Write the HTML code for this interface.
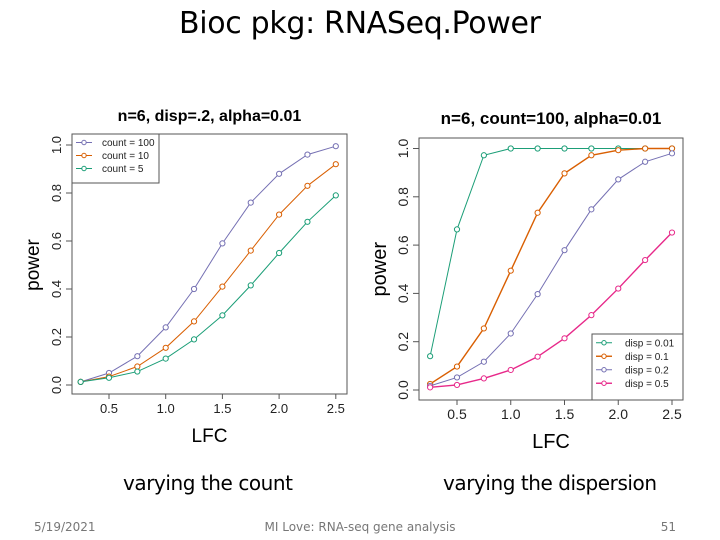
<!DOCTYPE html>
<html><head><meta charset="utf-8"><style>
body{margin:0;background:#fff;}
svg{display:block;font-family:"Liberation Sans",sans-serif;}
</style></head><body>
<svg id="s" width="720" height="540" viewBox="0 0 720 540">
<text x="360" y="33" text-anchor="middle" font-size="30" font-family="DejaVu Sans, sans-serif" textLength="362">Bioc pkg: RNASeq.Power</text>
<text x="208" y="490" text-anchor="middle" font-size="20" font-family="DejaVu Sans, sans-serif" textLength="170">varying the count</text>
<text x="550" y="490" text-anchor="middle" font-size="20" font-family="DejaVu Sans, sans-serif" textLength="214">varying the dispersion</text>
<text x="34" y="531" font-size="12" fill="#777" font-family="DejaVu Sans, sans-serif">5/19/2021</text>
<text x="360" y="531" text-anchor="middle" font-size="12" fill="#777" font-family="DejaVu Sans, sans-serif">MI Love: RNA-seq gene analysis</text>
<text x="676" y="531" text-anchor="end" font-size="12" fill="#777" font-family="DejaVu Sans, sans-serif">51</text>
<g id="left"></g>
<g id="right"></g>
</svg>
<script>
const lfc=[0.25,0.5,0.75,1.0,1.25,1.5,1.75,2.0,2.25,2.5];
const xTicks=[0.5,1.0,1.5,2.0,2.5];
const yTicks=[0,0.2,0.4,0.6,0.8,1.0];
const leftLabels=["count = 100","count = 10","count = 5"];
const count100=[0.013,0.05,0.12,0.24,0.40,0.59,0.76,0.88,0.96,0.995];
const count10=[0.013,0.035,0.077,0.155,0.265,0.41,0.56,0.71,0.83,0.92];
const count5=[0.013,0.03,0.056,0.11,0.19,0.29,0.415,0.55,0.68,0.79];
const rightLabels=["disp = 0.01","disp = 0.1","disp = 0.2","disp = 0.5"];
const disp001=[0.14,0.665,0.972,1,1,1,1,1,1,1];
const disp01=[0.025,0.097,0.255,0.494,0.734,0.897,0.972,0.993,1,1];
const disp02=[0.017,0.052,0.117,0.234,0.397,0.579,0.748,0.872,0.945,0.98];
const disp05=[0.011,0.021,0.048,0.083,0.138,0.214,0.31,0.42,0.538,0.652];
const NS="http://www.w3.org/2000/svg";
function mk(p,t,a,txt){const e=document.createElementNS(NS,t);for(const k in a)e.setAttribute(k,a[k]);if(txt!==undefined)e.textContent=txt;p.appendChild(e);return e;}
function chart(g,cfg){
  const X=v=>cfg.x0+(v-0.5)*cfg.xs, Y=v=>cfg.y0-v*cfg.ys;
  let e=mk(g,'rect',{x:cfg.bx0,y:cfg.by0,width:cfg.bx1-cfg.bx0,height:cfg.by1-cfg.by0,fill:'none',stroke:'#555','stroke-width':1});
  
  e=mk(g,'text',{x:(cfg.bx0+cfg.bx1)/2,y:cfg.ty,'text-anchor':'middle','font-size':cfg.tf,'font-weight':'bold'},cfg.title);
  
  xTicks.forEach(t=>{mk(g,'line',{x1:X(t),x2:X(t),y1:cfg.by1,y2:cfg.by1+5,stroke:'#555'});
    e=mk(g,'text',{x:X(t),y:cfg.by1+19,'text-anchor':'middle','font-size':cfg.kf,fill:'#222'},t.toFixed(1));
    });
  mk(g,'line',{x1:X(0.5),x2:X(2.5),y1:cfg.by1,y2:cfg.by1,stroke:'#555'});
  yTicks.forEach(t=>{mk(g,'line',{x1:cfg.bx0-6,x2:cfg.bx0,y1:Y(t),y2:Y(t),stroke:'#555'});
    e=mk(g,'text',{x:0,y:0,'text-anchor':'middle','font-size':cfg.kf,fill:'#222',transform:`translate(${cfg.bx0-11},${Y(t)}) rotate(-90)`},t.toFixed(1));
    });
  e=mk(g,'text',{x:(cfg.bx0+cfg.bx1)/2,y:cfg.by1+48,'text-anchor':'middle','font-size':cfg.af},'LFC');
  
  e=mk(g,'text',{x:0,y:0,'text-anchor':'middle','font-size':cfg.af,transform:`translate(${cfg.bx0-33},${(Y(0)+Y(1))/2}) rotate(-90)`},'power');
  
  cfg.series.forEach((s,i)=>{
    const pts=lfc.map((v,j)=>X(v)+','+Y(s.v[j])).join(' ');
    e=mk(g,'polyline',{points:pts,fill:'none',stroke:s.c,'stroke-width':s.w||1});
    
    lfc.forEach((v,j)=>{e=mk(g,'circle',{cx:X(v),cy:Y(s.v[j]),r:2.6,fill:'#fff',stroke:s.c,'stroke-width':1});
      });
  });
  const L=cfg.leg;
  e=mk(g,'rect',{x:L.x,y:L.y,width:L.w,height:L.h,fill:'#fff',stroke:'#555'});
  
  cfg.series.forEach((s,i)=>{const yy=L.y+L.dy*(i+0.5)+2;
    mk(g,'line',{x1:L.x+4,x2:L.x+20,y1:yy,y2:yy,stroke:s.c,'stroke-width':s.w||1});
    mk(g,'circle',{cx:L.x+12,cy:yy,r:2.2,fill:'#fff',stroke:s.c});
    e=mk(g,'text',{x:L.x+L.tx,y:yy+3.5,'font-size':L.f,fill:'#222'},cfg.labels[i]);
    });
}
chart(document.getElementById('left'),{bx0:72,bx1:347,by0:134,by1:394,x0:109,xs:113.4,y0:385,ys:240,title:'n=6, disp=.2, alpha=0.01',ty:121,tf:16,kf:13,af:19,
  labels:leftLabels,series:[{v:count100,c:'#7570b3'},{v:count10,c:'#d95f02'},{v:count5,c:'#1b9e77'}],
  leg:{x:72,y:134,w:87,h:49,dy:13,tx:30,f:10}});
chart(document.getElementById('right'),{bx0:419,bx1:683,by0:138,by1:400,x0:457,xs:107.5,y0:390,ys:241.5,title:'n=6, count=100, alpha=0.01',ty:124,tf:17,kf:14,af:20,
  labels:rightLabels,series:[{v:disp001,c:'#1b9e77'},{v:disp01,c:'#d95f02',w:1.4},{v:disp02,c:'#7570b3'},{v:disp05,c:'#e7298a',w:1.4}],
  leg:{x:592,y:334,w:91,h:66,dy:13.5,tx:33,f:10}});
</script>
</body></html>
